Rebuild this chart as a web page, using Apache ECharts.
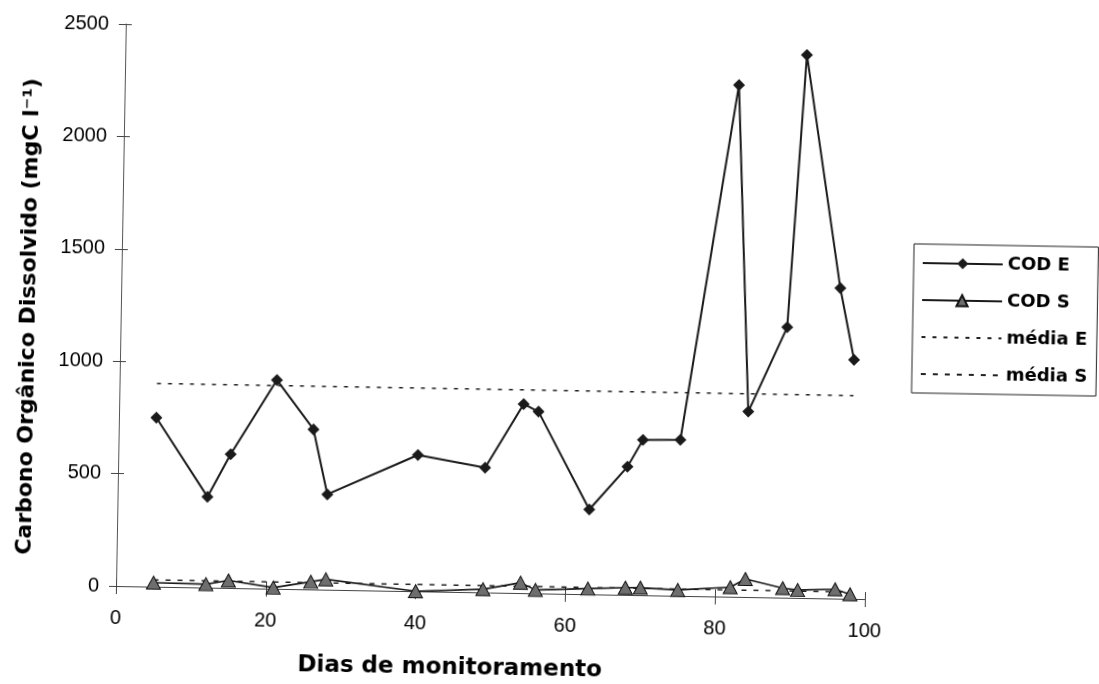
<!DOCTYPE html>
<html>
<head>
<meta charset="utf-8">
<title>Carbono Orgânico Dissolvido</title>
<script src="https://cdn.jsdelivr.net/npm/echarts@6/dist/echarts.min.js"></script>
<style>
  html, body { margin: 0; padding: 0; background: #fff; overflow: hidden; }
  /* the scanned figure is tilted about 1 degree clockwise around the plot origin */
  #chart { width: 1099px; height: 684px; transform-origin: 116px 586px; transform: rotate(1deg); }
</style>
</head>
<body>
<div id="chart"></div>
<script>
// dias de monitoramento
const dias = [5, 12, 15, 21, 26, 28, 40, 49, 54, 56, 63, 68, 70, 75, 82, 84, 89, 91, 96, 98]
// COD entrada / saída (mgC/l)
const codE = [752, 404, 595, 929, 712, 424, 606, 555, 841, 808, 377, 570, 691, 694, 2277, 825, 1203, 2416, 1381, 1063]
const codS = [18, 15, 33, 5, 34, 46, 0, 14, 46, 15, 25, 32, 33, 26, 42, 80, 42, 35, 41, 20]
// médias
const mediaE = 904
const mediaS = 30
const xTicks = [0, 20, 40, 60, 80, 100]
const yTicks = [0, 500, 1000, 1500, 2000, 2500]

const tickFont = 'Arial, "Liberation Sans", sans-serif'
const titleFont = '"DejaVu Sans", Arial, sans-serif'

let chart = echarts.init(document.getElementById('chart'))

let pairs = (xs, ys) => xs.map((x, i) => [x, ys[i]])
let first = dias[0]
let last = dias[dias.length - 1]

let option
option = {
  backgroundColor: '#fff',
  animation: false,
  textStyle: { fontFamily: tickFont, color: '#000' },
  grid: {
    left: 116,
    top: 24,
    width: 749,
    height: 562,
    outerBoundsMode: 'none'
  },
  legend: {
    orient: 'vertical',
    left: 908,
    top: 230,
    itemWidth: 80,
    itemHeight: 14,
    itemGap: 17,
    padding: [9, 9, 9, 8],
    borderColor: '#222',
    borderWidth: 1,
    backgroundColor: '#fff',
    textStyle: { fontSize: 18, lineHeight: 20, fontWeight: 'bold', color: '#000', fontFamily: titleFont },
    data: ['COD E', 'COD S', 'média E', 'média S']
  },
  xAxis: [
    {
      type: 'value',
      min: xTicks[0],
      max: xTicks[xTicks.length - 1],
      interval: 20,
      splitLine: { show: false },
      axisLine: { lineStyle: { color: '#444', width: 1 } },
      axisTick: { inside: false, length: 8, lineStyle: { color: '#444' } },
      axisLabel: { fontSize: 20, color: '#000', margin: 22 }
    },
    {
      type: 'value',
      position: 'bottom',
      min: xTicks[0],
      max: xTicks[xTicks.length - 1],
      interval: 20,
      splitLine: { show: false },
      axisLine: { show: false },
      axisTick: { inside: true, length: 7, lineStyle: { color: '#444' } },
      axisLabel: { show: false }
    }
  ],
  yAxis: [
    {
      type: 'value',
      min: yTicks[0],
      max: yTicks[yTicks.length - 1],
      interval: 500,
      splitLine: { show: false },
      axisLine: { show: true, lineStyle: { color: '#555', width: 1 } },
      axisTick: { show: true, inside: false, length: 7, lineStyle: { color: '#444' } },
      axisLabel: { fontSize: 20, color: '#000', margin: 17, formatter: v => String(v) }
    },
    {
      type: 'value',
      position: 'left',
      min: yTicks[0],
      max: yTicks[yTicks.length - 1],
      interval: 500,
      splitLine: { show: false },
      axisLine: { show: false },
      axisTick: { show: true, inside: true, length: 6, lineStyle: { color: '#444' } },
      axisLabel: { show: false }
    }
  ],
  graphic: [
    {
      type: 'text',
      x: 24,
      y: 318,
      rotation: Math.PI / 2,
      style: {
        text: 'Carbono Orgânico Dissolvido (mgC l⁻¹)',
        fontSize: 22,
        fontWeight: 'bold',
        fontFamily: titleFont,
        fill: '#000',
        align: 'center',
        verticalAlign: 'middle'
      }
    },
    {
      type: 'text',
      x: 451,
      y: 662,
      style: {
        text: 'Dias de monitoramento',
        fontSize: 23,
        fontWeight: 'bold',
        fontFamily: titleFont,
        fill: '#000',
        align: 'center',
        verticalAlign: 'middle'
      }
    }
  ],
  series: [
    {
      name: 'COD E',
      type: 'line',
      data: pairs(dias, codE),
      symbol: 'diamond',
      symbolSize: 12,
      itemStyle: { color: '#1a1a1a' },
      lineStyle: { color: '#1a1a1a', width: 2 },
      z: 4
    },
    {
      name: 'COD S',
      type: 'line',
      data: pairs(dias, codS),
      symbol: 'triangle',
      symbolSize: [14, 13],
      itemStyle: { color: '#6e6e6e', borderColor: '#111', borderWidth: 1 },
      lineStyle: { color: '#1a1a1a', width: 1.6 },
      z: 4
    },
    {
      name: 'média E',
      type: 'line',
      data: [[first, mediaE], [last, mediaE]],
      showSymbol: false,
      symbol: 'none',
      itemStyle: { color: 'rgba(0,0,0,0)' },
      lineStyle: { color: '#222', width: 1.6, type: [4, 7] },
      z: 3
    },
    {
      name: 'média S',
      type: 'line',
      data: [[first, mediaS], [last, mediaS]],
      showSymbol: false,
      symbol: 'none',
      itemStyle: { color: 'rgba(0,0,0,0)' },
      lineStyle: { color: '#222', width: 1.6, type: [5, 7] },
      z: 3
    }
  ]
}
option && chart.setOption(option)
</script>
</body>
</html>
